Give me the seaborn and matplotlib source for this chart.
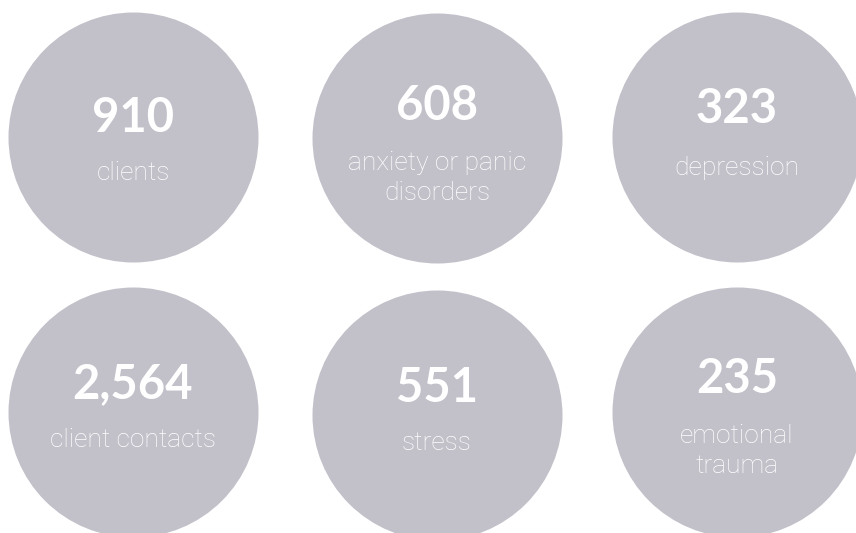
import pandas as pd
import matplotlib
matplotlib.use("Agg")
import matplotlib.pyplot as plt
import seaborn as sns

# values shown in the circles
counts = [910, 608, 323, 2564, 551, 235]
labels = ["clients", "anxiety or panic\ndisorders", "depression",
          "client contacts", "stress", "emotional\ntrauma"]

# layout (pixels): circle centres, number baseline, first label baseline
cx = [133, 437, 737, 133, 437, 737]
cy = [137, 138, 137, 412, 415, 412]
num_base = [132, 120, 123, 398, 402, 393]
lab_base = [180, 170, 175, 447, 450, 443]

sns.set_theme(style="white")
plt.rcParams["font.family"] = ["Lato", "DejaVu Sans"]

df = pd.DataFrame({"x": cx, "y": cy, "count": counts, "label": labels})

fig = plt.figure(figsize=(8.56, 5.33), dpi=100)
ax = fig.add_axes([0, 0, 1, 1])
sns.scatterplot(data=df, x="x", y="y", s=180 ** 2, color="#c2c0c9",
                linewidth=0, legend=False, ax=ax)
ax.set_xlim(0, 856)
ax.set_ylim(533, 0)
ax.set_axis_off()

for i, row in df.iterrows():
    ax.text(row["x"], num_base[i], f"{row['count']:,}", ha="center",
            va="baseline", color="white", fontsize=34, fontweight="bold")
    for j, line in enumerate(row["label"].split("\n")):
        ax.text(row["x"], lab_base[i] + 30 * j, line, ha="center",
                va="baseline", color="white", fontsize=19,
                family=["Roboto", "Lato", "DejaVu Sans"], fontweight="light")

fig.savefig("out.png", dpi=100)
